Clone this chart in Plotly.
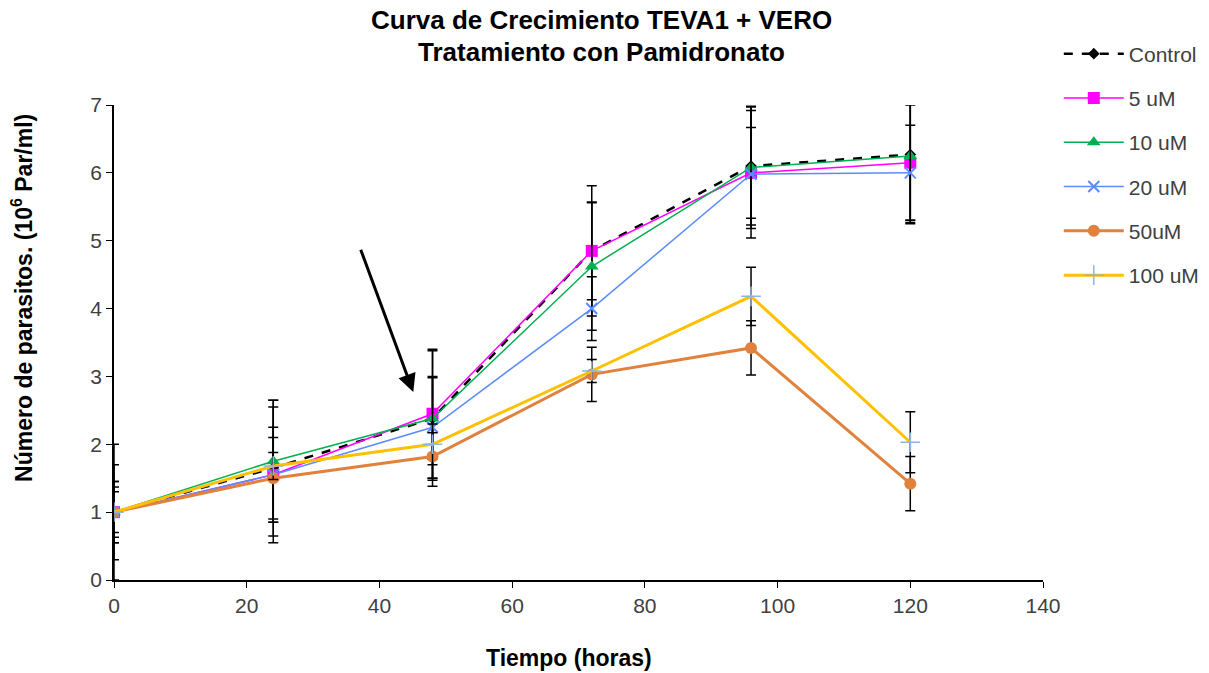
import plotly.graph_objects as go

# Tiempo de muestreo (horas)
horas = [0, 24, 48, 72, 96, 120]

# Densidad de parásitos (10^6 Par/ml) por tratamiento
control = [1.0, 1.65, 2.38, 4.85, 6.10, 6.27]
um5 = [1.0, 1.55, 2.45, 4.85, 6.00, 6.15]
um10 = [1.0, 1.75, 2.38, 4.62, 6.08, 6.25]
um20 = [1.0, 1.55, 2.25, 4.00, 5.98, 6.00]
um50 = [1.0, 1.50, 1.82, 3.03, 3.42, 1.42]
um100 = [1.0, 1.68, 2.00, 3.08, 4.18, 2.03]

# Desviación estándar de cada punto
err_control = [1.00, 1.00, 1.00, 0.96, 0.87, 1.00]
err_um5 = [0.70, 1.00, 0.95, 0.72, 0.67, 0.85]
err_um10 = [0.45, 0.90, 0.60, 0.94, 0.90, 1.00]
err_um20 = [0.37, 0.70, 0.75, 0.47, 0.94, 0.70]
err_um50 = [0.45, 0.60, 0.35, 0.40, 0.40, 0.40]
err_um100 = [0.30, 0.20, 0.30, 0.17, 0.43, 0.45]

nombres = ["Control", "5 uM", "10 uM", "20 uM", "50uM", "100 uM"]

titulo = ["Curva de Crecimiento TEVA1 + VERO", "Tratamiento con Pamidronato"]
titulo_x = "Tiempo (horas)"
titulo_y = "Número de parasitos. (10<sup>6</sup> Par/ml)"

series = [
    (control, err_control, dict(color="black", width=2.5, dash="dash"),
     dict(symbol="diamond", size=9, color="black")),
    (um5, err_um5, dict(color="#FF00FF", width=1.5),
     dict(symbol="square", size=12, color="#FF00FF")),
    (um10, err_um10, dict(color="#00B050", width=1.5),
     dict(symbol="triangle-up", size=12, color="#00B050")),
    (um20, err_um20, dict(color="#5B8CFF", width=1.5),
     dict(symbol="x-thin", size=11, color="#5B8CFF", line=dict(width=2, color="#5B8CFF"))),
    (um50, err_um50, dict(color="#E0823D", width=3),
     dict(symbol="circle", size=12, color="#E0823D")),
    (um100, err_um100, dict(color="#FFC000", width=3),
     dict(symbol="cross-thin", size=14, color="#8EB4E3", line=dict(width=1.5, color="#8EB4E3"))),
]

fig = go.Figure()
for nombre, (vals, errs, linea, marca) in zip(nombres, series):
    fig.add_trace(go.Scatter(
        x=horas, y=vals, name=nombre, mode="lines+markers",
        line=linea, marker=marca, legendgroup=nombre,
        error_y=dict(type="data", array=errs, visible=True,
                     color="black", thickness=1.5, width=5),
    ))

# Flecha que señala la adición del tratamiento
fig.add_annotation(
    x=45.1, y=2.77, ax=37.1, ay=4.89, xref="x", yref="y", axref="x", ayref="y",
    text="", showarrow=True, arrowhead=2, arrowsize=1.2, arrowwidth=3,
    arrowcolor="black",
)

# Título en dos líneas
for texto, ypos in zip(titulo, [1.179, 1.112]):
    fig.add_annotation(
        text=f"<b>{texto}</b>", xref="paper", yref="paper", x=0.525, y=ypos,
        xanchor="center", yanchor="middle", showarrow=False,
        font=dict(size=26, color="black"),
    )

# Títulos de los ejes
fig.add_annotation(
    text=f"<b>{titulo_x}</b>", xref="paper", yref="paper", x=0.49, y=-0.164,
    xanchor="center", yanchor="middle", showarrow=False,
    font=dict(size=23, color="black"),
)
fig.add_annotation(
    text=f"<b>{titulo_y}</b>", xref="paper", yref="paper", x=-0.099, y=0.594,
    xanchor="center", yanchor="middle", showarrow=False, textangle=-90,
    font=dict(size=23, color="black"),
)

fig.update_layout(
    width=1209, height=673,
    paper_bgcolor="white", plot_bgcolor="white",
    margin=dict(l=114, r=166, t=105, b=93, autoexpand=False),
    font=dict(family="Liberation Sans, Arial, sans-serif", size=21, color="#404040"),
    legend=dict(
        x=1.017, xanchor="left", y=1.1505, yanchor="top",
        font=dict(size=21, color="#404040"),
        tracegroupgap=14, itemwidth=60, bgcolor="rgba(0,0,0,0)",
    ),
    xaxis=dict(
        range=[0, 140], dtick=20, showgrid=False, zeroline=False,
        showline=True, linecolor="black", linewidth=1.5,
        ticks="outside", ticklen=6, tickcolor="black",
        tickfont=dict(size=21, color="#404040"),
    ),
    yaxis=dict(
        range=[0, 7], dtick=1, showgrid=False, zeroline=False,
        showline=True, linecolor="black", linewidth=1.5,
        ticks="outside", ticklen=6, tickcolor="black",
        tickfont=dict(size=21, color="#404040"),
    ),
)

fig.write_html("out.html")
